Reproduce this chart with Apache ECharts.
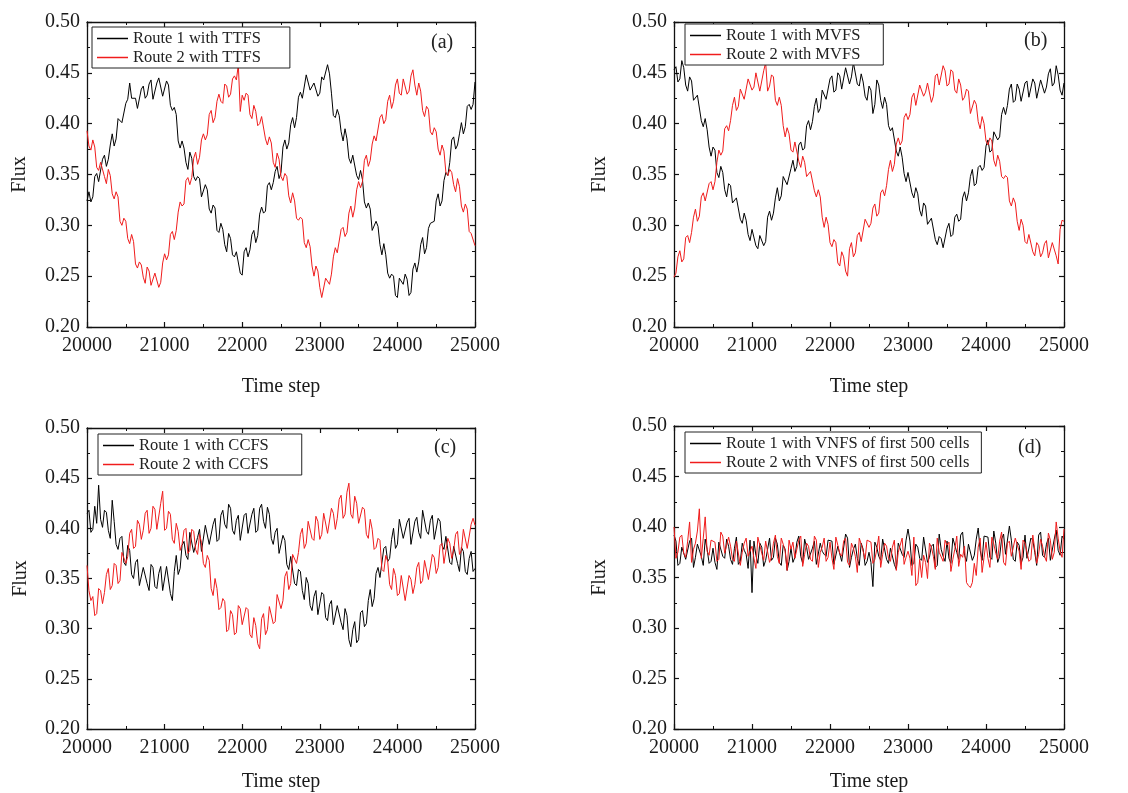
<!DOCTYPE html>
<html>
<head>
<meta charset="utf-8">
<script src="https://cdn.jsdelivr.net/npm/echarts@6/dist/echarts.min.js"></script>
<style>
html,body{margin:0;padding:0;background:#fff;}
#chart{width:1128px;height:793px;}
</style>
</head>
<body>
<div id="chart"></div>
<script>
// Time steps sampled every 25 steps from 20000 to 25000
const stepStart = 20000, stepSize = 25, nSteps = 201;
const timeSteps = Array.from({length: nSteps}, (_, i) => stepStart + stepSize * i);
const xTicks = [20000, 21000, 22000, 23000, 24000, 25000];
const yTicks = [0.20, 0.25, 0.30, 0.35, 0.40, 0.45, 0.50];

// (a) TTFS
const route1TTFS = [.324,.333,.323,.328,.348,.351,.343,.344,.365,.369,
.358,.365,.379,.390,.378,.385,.405,.406,.401,.402,
.420,.424,.440,.425,.425,.425,.415,.415,.434,.437,
.425,.428,.439,.443,.424,.425,.440,.445,.444,.427,
.428,.442,.438,.418,.413,.416,.409,.383,.376,.383,
.376,.362,.355,.372,.366,.348,.344,.348,.346,.328,
.327,.340,.335,.316,.312,.320,.317,.295,.293,.302,
.296,.281,.274,.292,.287,.271,.269,.274,.273,.253,
.251,.274,.278,.269,.276,.291,.295,.283,.290,.311,
.318,.312,.314,.339,.342,.335,.342,.353,.358,.346,
.352,.377,.384,.375,.381,.399,.406,.396,.406,.426,
.431,.425,.426,.448,.448,.433,.432,.440,.441,.427,
.430,.446,.443,.443,.458,.449,.430,.408,.406,.414,
.408,.392,.383,.395,.385,.366,.361,.369,.370,.349,
.345,.354,.345,.323,.317,.322,.316,.295,.294,.304,
.299,.281,.271,.282,.271,.253,.248,.252,.250,.231,
.229,.248,.248,.242,.252,.247,.231,.234,.257,.263,
.254,.264,.281,.288,.272,.278,.297,.302,.301,.304,
.324,.331,.319,.324,.344,.352,.349,.362,.384,.387,
.375,.379,.390,.401,.390,.397,.417,.419,.414,.419,
.441];
const route2TTFS = [.393,.378,.374,.384,.377,.357,.354,.362,.361,.348,
.341,.355,.349,.331,.326,.333,.328,.304,.300,.307,
.304,.287,.282,.291,.284,.262,.258,.264,.261,.249,
.243,.259,.255,.241,.240,.253,.253,.239,.244,.263,
.272,.266,.271,.291,.294,.286,.295,.313,.323,.319,
.321,.344,.347,.340,.347,.366,.372,.360,.367,.384,
.390,.384,.389,.409,.413,.401,.406,.422,.429,.422,
.420,.439,.437,.426,.429,.444,.447,.443,.458,.412,
.428,.423,.430,.428,.409,.405,.418,.412,.398,.400,
.407,.406,.385,.379,.387,.381,.362,.357,.371,.365,
.348,.344,.351,.348,.329,.322,.332,.324,.307,.305,
.308,.306,.283,.278,.286,.279,.260,.250,.260,.255,
.239,.229,.230,.248,.249,.242,.252,.269,.278,.273,
.274,.296,.298,.289,.293,.312,.319,.308,.317,.335,
.343,.337,.343,.364,.369,.358,.364,.380,.388,.383,
.383,.406,.409,.400,.404,.422,.428,.415,.422,.438,
.444,.430,.428,.444,.443,.429,.432,.447,.453,.438,
.428,.440,.432,.413,.407,.417,.414,.392,.389,.396,
.392,.375,.369,.379,.373,.352,.349,.355,.352,.340,
.333,.346,.338,.319,.313,.321,.316,.294,.292,.291,
.280];
// (b) MVFS
const route1MVFS = [.453,.456,.441,.444,.462,.455,.438,.432,.446,.442,
.423,.422,.428,.427,.403,.397,.405,.394,.377,.368,
.377,.374,.352,.347,.358,.352,.335,.328,.341,.339,
.322,.321,.327,.328,.306,.302,.312,.305,.291,.285,
.296,.297,.280,.277,.290,.290,.280,.284,.308,.314,
.305,.312,.327,.337,.324,.329,.348,.347,.340,.339,
.356,.364,.353,.358,.379,.382,.374,.376,.398,.403,
.394,.402,.417,.425,.411,.415,.433,.432,.424,.425,
.444,.447,.431,.433,.450,.447,.434,.435,.455,.454,
.439,.446,.460,.461,.439,.437,.449,.441,.427,.423,
.437,.433,.410,.419,.443,.438,.423,.415,.426,.419,
.398,.393,.396,.396,.373,.368,.377,.367,.351,.343,
.352,.351,.332,.327,.337,.331,.315,.309,.322,.319,
.301,.300,.307,.308,.286,.281,.289,.287,.278,.279,
.297,.302,.289,.291,.308,.311,.304,.306,.327,.333,
.324,.332,.348,.355,.339,.341,.357,.359,.354,.357,
.378,.384,.372,.374,.392,.393,.384,.387,.409,.416,
.409,.418,.434,.439,.421,.423,.439,.434,.422,.422,
.440,.442,.426,.427,.444,.440,.425,.424,.443,.444,
.430,.436,.449,.454,.437,.440,.457,.448,.433,.428,
.440];
const route2MVFS = [.249,.253,.269,.275,.264,.267,.288,.290,.283,.293,
.308,.316,.304,.309,.328,.332,.324,.323,.341,.343,
.335,.343,.362,.374,.369,.373,.395,.398,.393,.403,
.418,.426,.413,.417,.434,.435,.424,.424,.444,.444,
.433,.436,.450,.449,.432,.433,.452,.460,.432,.437,
.448,.446,.423,.418,.426,.418,.398,.387,.396,.390,
.374,.372,.382,.381,.363,.357,.368,.362,.348,.348,
.353,.354,.334,.328,.335,.328,.308,.298,.308,.301,
.283,.279,.286,.283,.263,.260,.274,.269,.255,.250,
.277,.283,.269,.273,.290,.293,.284,.285,.306,.307,
.298,.302,.317,.321,.309,.312,.332,.335,.329,.339,
.355,.364,.353,.360,.380,.386,.379,.383,.406,.410,
.404,.409,.426,.430,.418,.419,.438,.437,.427,.431,
.440,.441,.421,.427,.447,.449,.438,.438,.457,.452,
.437,.439,.453,.451,.433,.430,.444,.438,.423,.426,
.434,.432,.410,.410,.423,.419,.402,.395,.407,.400,
.383,.379,.386,.383,.364,.358,.369,.363,.348,.346,
.349,.347,.324,.319,.327,.322,.304,.295,.306,.300,
.284,.282,.291,.291,.274,.270,.283,.280,.269,.273,
.282,.285,.268,.269,.283,.283,.270,.262,.296,.305,
.304];
// (c) CCFS
const route1CCFS = [.415,.418,.396,.399,.422,.405,.443,.409,.401,.418,
.416,.398,.390,.428,.407,.384,.379,.390,.392,.366,
.363,.383,.378,.354,.350,.366,.369,.343,.342,.361,
.362,.345,.338,.364,.361,.342,.340,.355,.362,.338,
.337,.362,.362,.335,.328,.357,.373,.354,.360,.383,
.387,.373,.369,.396,.395,.376,.375,.391,.399,.377,
.378,.403,.403,.384,.385,.404,.410,.387,.389,.413,
.418,.404,.400,.424,.420,.398,.394,.408,.413,.388,
.387,.413,.415,.395,.395,.414,.420,.396,.398,.420,
.424,.407,.400,.421,.414,.390,.384,.396,.400,.375,
.374,.393,.388,.364,.359,.372,.373,.345,.343,.359,
.357,.338,.329,.351,.345,.323,.318,.332,.338,.314,
.314,.336,.334,.311,.308,.324,.328,.304,.305,.323,
.322,.306,.299,.320,.313,.289,.282,.299,.307,.286,
.289,.316,.318,.302,.305,.328,.339,.322,.330,.355,
.361,.351,.350,.380,.382,.367,.370,.389,.400,.380,
.384,.409,.410,.390,.390,.406,.410,.384,.384,.407,
.411,.396,.390,.418,.417,.397,.394,.408,.413,.389,
.388,.410,.407,.383,.379,.392,.393,.366,.364,.382,
.382,.365,.357,.381,.377,.357,.354,.370,.377,.357,
.360];
const route2CCFS = [.363,.338,.328,.332,.313,.315,.340,.338,.325,.336,
.354,.360,.339,.343,.365,.363,.345,.348,.376,.377,
.365,.372,.395,.399,.380,.382,.408,.404,.389,.398,
.415,.418,.395,.400,.422,.419,.399,.399,.425,.437,
.398,.400,.417,.414,.389,.385,.405,.397,.378,.384,
.398,.400,.375,.378,.399,.397,.379,.374,.394,.386,
.365,.361,.373,.368,.340,.333,.350,.340,.319,.321,
.330,.327,.297,.299,.318,.314,.294,.296,.323,.320,
.304,.305,.321,.319,.294,.291,.311,.303,.285,.280,
.310,.315,.294,.299,.322,.322,.305,.307,.334,.333,
.320,.328,.352,.357,.339,.345,.374,.375,.365,.376,
.394,.400,.380,.385,.407,.407,.390,.388,.412,.407,
.389,.394,.415,.416,.395,.396,.420,.415,.399,.410,
.429,.433,.410,.414,.436,.445,.414,.410,.432,.425,
.405,.405,.421,.419,.394,.390,.409,.399,.379,.381,
.390,.388,.359,.357,.373,.367,.344,.339,.360,.353,
.333,.335,.353,.352,.328,.329,.353,.349,.335,.344,
.361,.366,.345,.348,.368,.367,.349,.349,.374,.371,
.355,.361,.383,.385,.365,.366,.390,.385,.370,.378,
.394,.397,.374,.378,.399,.398,.380,.379,.404,.410,
.403];
// (d) VNFS of first 500 cells
const route1VNFS = [.392,.386,.362,.364,.380,.380,.368,.367,.386,.389,
.360,.370,.383,.383,.371,.362,.388,.378,.364,.366,
.379,.365,.358,.385,.385,.371,.369,.388,.381,.368,
.363,.379,.390,.363,.366,.384,.377,.373,.359,.387,
.335,.386,.372,.364,.384,.380,.361,.367,.378,.389,
.367,.370,.389,.383,.365,.362,.382,.378,.357,.366,
.379,.365,.370,.385,.391,.371,.364,.388,.380,.368,
.368,.379,.386,.363,.362,.384,.376,.373,.371,.387,
.387,.386,.363,.364,.381,.380,.366,.367,.393,.389,
.360,.370,.378,.383,.369,.362,.384,.378,.362,.366,
.375,.365,.341,.385,.380,.371,.367,.388,.388,.368,
.364,.379,.379,.363,.358,.384,.385,.373,.370,.387,
.398,.386,.362,.364,.383,.380,.369,.367,.390,.389,
.365,.370,.381,.383,.360,.362,.393,.378,.371,.366,
.386,.369,.364,.389,.389,.375,.368,.392,.395,.372,
.366,.383,.384,.367,.372,.388,.399,.377,.367,.391,
.391,.390,.370,.368,.396,.384,.365,.371,.388,.393,
.373,.374,.401,.387,.368,.366,.385,.382,.364,.370,
.392,.369,.369,.389,.387,.375,.362,.392,.395,.372,
.370,.383,.389,.367,.366,.388,.397,.377,.372,.391,
.388];
const route2VNFS = [.400,.369,.375,.390,.392,.374,.370,.386,.405,.365,
.378,.384,.396,.418,.369,.389,.410,.376,.372,.387,
.388,.385,.366,.368,.395,.391,.374,.373,.390,.381,
.368,.366,.386,.387,.362,.375,.384,.389,.371,.370,
.381,.369,.359,.390,.389,.374,.367,.386,.385,.365,
.370,.384,.392,.371,.364,.389,.383,.376,.357,.387,
.378,.385,.369,.368,.387,.391,.361,.373,.384,.381,
.368,.366,.391,.387,.360,.375,.380,.389,.366,.370,
.385,.369,.358,.390,.382,.374,.371,.386,.389,.365,
.362,.384,.379,.371,.355,.389,.383,.376,.368,.387,
.387,.385,.364,.368,.378,.391,.360,.373,.384,.381,
.369,.366,.380,.387,.357,.375,.382,.389,.363,.370,
.376,.369,.352,.390,.342,.345,.368,.350,.372,.365,
.349,.384,.380,.371,.358,.389,.375,.376,.366,.387,
.382,.385,.356,.368,.378,.391,.361,.373,.370,.381,
.345,.342,.340,.345,.364,.352,.380,.389,.355,.370,
.385,.369,.360,.390,.383,.374,.368,.386,.395,.365,
.362,.384,.386,.371,.370,.389,.390,.376,.358,.387,
.384,.385,.366,.368,.392,.391,.364,.373,.388,.381,
.371,.366,.394,.387,.368,.375,.405,.389,.376,.370,
.398];

const panelLabels = ['(a)', '(b)', '(c)', '(d)'];
const route1Names = ['Route 1 with TTFS', 'Route 1 with MVFS', 'Route 1 with CCFS', 'Route 1 with VNFS of first 500 cells'];
const route2Names = ['Route 2 with TTFS', 'Route 2 with MVFS', 'Route 2 with CCFS', 'Route 2 with VNFS of first 500 cells'];
const route1Data = [route1TTFS, route1MVFS, route1CCFS, route1VNFS];
const route2Data = [route2TTFS, route2MVFS, route2CCFS, route2VNFS];

// layout (pixels)
const grids = [
  {left: 87, top: 22, width: 388, height: 305},
  {left: 674, top: 22, width: 390, height: 305},
  {left: 87, top: 428, width: 388, height: 306},
  {left: 674, top: 426, width: 390, height: 308}
];
const legendPos = [
  {left: 92, top: 27, pr: 29},
  {left: 685, top: 24, pr: 23},
  {left: 98, top: 434, pr: 33},
  {left: 685, top: 432, pr: 12}
];
const labelPos = [[445, 45], [1038, 43], [448, 450], [1032, 450]];
const yNameGap = [57, 64, 56, 64];
const xNameGap = [50, 50, 43, 43];

const FONT = 'Liberation Serif';
const BLACK = '#000000';
const RED = '#f01c1c';

const option = {
  animation: false,
  backgroundColor: '#fff',
  grid: grids.map(g => Object.assign({containLabel: false}, g)),
  xAxis: [],
  yAxis: [],
  legend: [],
  series: [],
  graphic: []
};

function tickCommon() {
  return {
    axisLine: {show: true, onZero: false, lineStyle: {color: '#111', width: 1.3}},
    axisTick: {show: true, inside: true, length: 5, lineStyle: {color: '#111', width: 1.2}},
    minorTick: {show: true, splitNumber: 2, length: 3, lineStyle: {color: '#111', width: 1}},
    splitLine: {show: false},
    minorSplitLine: {show: false}
  };
}

for (let i = 0; i < 4; i++) {
  option.xAxis.push(Object.assign({
    type: 'value', gridIndex: i, position: 'bottom',
    min: xTicks[0], max: xTicks[xTicks.length - 1], interval: 1000,
    axisLabel: {show: true, color: '#1a1a1a', fontFamily: FONT, fontSize: 20, margin: 9,
      formatter: v => String(v)},
    name: 'Time step', nameLocation: 'middle', nameGap: xNameGap[i],
    nameTextStyle: {fontFamily: FONT, fontSize: 20, color: '#1a1a1a'}
  }, tickCommon()));
  option.xAxis.push(Object.assign({
    type: 'value', gridIndex: i, position: 'top',
    min: xTicks[0], max: xTicks[xTicks.length - 1], interval: 1000,
    axisLabel: {show: false}
  }, tickCommon()));
  option.yAxis.push(Object.assign({
    type: 'value', gridIndex: i, position: 'left',
    min: yTicks[0], max: yTicks[yTicks.length - 1], interval: 0.05,
    axisLabel: {show: true, color: '#1a1a1a', fontFamily: FONT, fontSize: 20, margin: 7,
      formatter: v => v.toFixed(2)},
    name: 'Flux', nameLocation: 'middle', nameGap: yNameGap[i], nameRotate: 90,
    nameTextStyle: {fontFamily: FONT, fontSize: 20, color: '#1a1a1a'}
  }, tickCommon()));
  option.yAxis.push(Object.assign({
    type: 'value', gridIndex: i, position: 'right',
    min: yTicks[0], max: yTicks[yTicks.length - 1], interval: 0.05,
    axisLabel: {show: false}
  }, tickCommon()));

  option.series.push({
    name: route1Names[i], type: 'line', xAxisIndex: 2 * i, yAxisIndex: 2 * i,
    showSymbol: false, symbol: 'none', clip: true,
    lineStyle: {color: BLACK, width: 1}, itemStyle: {color: BLACK},
    data: timeSteps.map((t, k) => [t, route1Data[i][k]])
  });
  option.series.push({
    name: route2Names[i], type: 'line', xAxisIndex: 2 * i, yAxisIndex: 2 * i,
    showSymbol: false, symbol: 'none', clip: true,
    lineStyle: {color: RED, width: 1}, itemStyle: {color: RED},
    data: timeSteps.map((t, k) => [t, route2Data[i][k]])
  });

  const lp = legendPos[i];
  option.legend.push({
    data: [route1Names[i], route2Names[i]],
    orient: 'vertical', left: lp.left, top: lp.top,
    icon: 'rect', itemWidth: 31, itemHeight: 1.5, itemGap: 2,
    padding: [3, lp.pr, 2, 5],
    borderColor: '#222', borderWidth: 1, borderRadius: 0,
    backgroundColor: '#fff',
    selectedMode: false,
    textStyle: {fontFamily: FONT, fontSize: 16.5, color: '#222', lineHeight: 16}
  });

  option.graphic.push({
    type: 'text', left: labelPos[i][0] - 14, top: labelPos[i][1] - 12,
    style: {text: panelLabels[i], font: '20px "Liberation Serif"', fill: '#222'}
  });
}

const chart = echarts.init(document.getElementById('chart'), null, {renderer: 'canvas'});
chart.setOption(option);
</script>
</body>
</html>
